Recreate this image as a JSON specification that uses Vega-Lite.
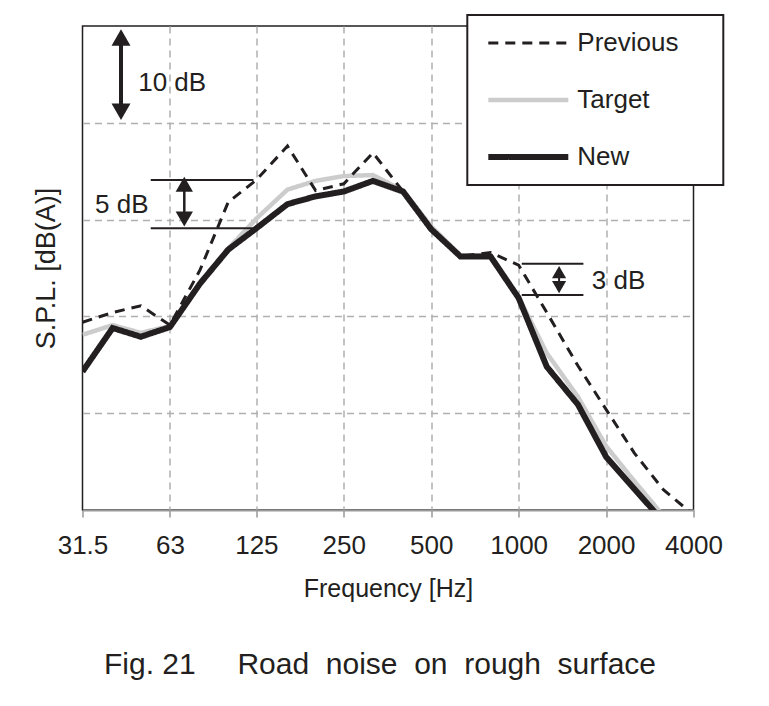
{
  "$schema": "https://vega.github.io/schema/vega-lite/v6.json",
  "width": 611,
  "height": 484,
  "autosize": {"type": "none"},
  "padding": {"left": 82.5, "top": 26, "right": 75.5, "bottom": 196},
  "background": "white",
  "config": {
    "font": "Liberation Sans",
    "view": {"stroke": "#231f20", "strokeWidth": 1.5}
  },
  "title": {
    "text": "Fig. 21\u00a0\u00a0\u00a0\u00a0\u00a0Road\u00a0\u00a0noise\u00a0\u00a0on\u00a0\u00a0rough\u00a0\u00a0surface",
    "orient": "bottom", "frame": "group", "anchor": "middle", "baseline": "alphabetic",
    "offset": 73, "dx": -8, "fontSize": 30, "fontWeight": "normal", "color": "#231f20", "font": "Liberation Sans"
  },
  "datasets": {
    "spectra": [
      {"series": "Target", "freq": 31.5, "spl": 18.1},
      {"series": "Target", "freq": 40, "spl": 19.1},
      {"series": "Target", "freq": 50, "spl": 18.3},
      {"series": "Target", "freq": 63, "spl": 19.0},
      {"series": "Target", "freq": 80, "spl": 23.4},
      {"series": "Target", "freq": 100, "spl": 27.0},
      {"series": "Target", "freq": 125, "spl": 30.1},
      {"series": "Target", "freq": 160, "spl": 33.1},
      {"series": "Target", "freq": 200, "spl": 34.0},
      {"series": "Target", "freq": 250, "spl": 34.5},
      {"series": "Target", "freq": 315, "spl": 34.6},
      {"series": "Target", "freq": 400, "spl": 33.0},
      {"series": "Target", "freq": 500, "spl": 29.3},
      {"series": "Target", "freq": 630, "spl": 26.3},
      {"series": "Target", "freq": 800, "spl": 26.3},
      {"series": "Target", "freq": 1000, "spl": 22.0},
      {"series": "Target", "freq": 1250, "spl": 16.2},
      {"series": "Target", "freq": 1600, "spl": 11.7},
      {"series": "Target", "freq": 2000, "spl": 6.6},
      {"series": "Target", "freq": 2500, "spl": 3.0},
      {"series": "Target", "freq": 3150, "spl": -0.6},
      {"series": "Previous", "freq": 31.5, "spl": 19.4},
      {"series": "Previous", "freq": 40, "spl": 20.4},
      {"series": "Previous", "freq": 50, "spl": 21.1},
      {"series": "Previous", "freq": 63, "spl": 19.1},
      {"series": "Previous", "freq": 80, "spl": 24.8},
      {"series": "Previous", "freq": 100, "spl": 31.8},
      {"series": "Previous", "freq": 125, "spl": 34.1},
      {"series": "Previous", "freq": 160, "spl": 37.6},
      {"series": "Previous", "freq": 200, "spl": 33.0},
      {"series": "Previous", "freq": 250, "spl": 33.7},
      {"series": "Previous", "freq": 315, "spl": 36.9},
      {"series": "Previous", "freq": 400, "spl": 32.9},
      {"series": "Previous", "freq": 500, "spl": 29.0},
      {"series": "Previous", "freq": 630, "spl": 26.2},
      {"series": "Previous", "freq": 800, "spl": 26.6},
      {"series": "Previous", "freq": 1000, "spl": 25.3},
      {"series": "Previous", "freq": 1250, "spl": 20.4},
      {"series": "Previous", "freq": 1600, "spl": 14.9},
      {"series": "Previous", "freq": 2000, "spl": 10.4},
      {"series": "Previous", "freq": 2500, "spl": 5.9},
      {"series": "Previous", "freq": 3150, "spl": 2.1},
      {"series": "Previous", "freq": 4000, "spl": -0.5},
      {"series": "New", "freq": 31.5, "spl": 14.3},
      {"series": "New", "freq": 40, "spl": 18.8},
      {"series": "New", "freq": 50, "spl": 17.9},
      {"series": "New", "freq": 63, "spl": 18.9},
      {"series": "New", "freq": 80, "spl": 23.4},
      {"series": "New", "freq": 100, "spl": 26.9},
      {"series": "New", "freq": 125, "spl": 29.1},
      {"series": "New", "freq": 160, "spl": 31.6},
      {"series": "New", "freq": 200, "spl": 32.4},
      {"series": "New", "freq": 250, "spl": 32.9},
      {"series": "New", "freq": 315, "spl": 34.0},
      {"series": "New", "freq": 400, "spl": 32.9},
      {"series": "New", "freq": 500, "spl": 29.0},
      {"series": "New", "freq": 630, "spl": 26.2},
      {"series": "New", "freq": 800, "spl": 26.2},
      {"series": "New", "freq": 1000, "spl": 21.9},
      {"series": "New", "freq": 1250, "spl": 14.8},
      {"series": "New", "freq": 1600, "spl": 10.9},
      {"series": "New", "freq": 2000, "spl": 5.5},
      {"series": "New", "freq": 2500, "spl": 2.2},
      {"series": "New", "freq": 3150, "spl": -1.2}
    ]
  },
  "layer": [
    {
      "data": {"name": "spectra"},
      "transform": [{"filter": "datum.series === 'Target'"}],
      "mark": {"type": "line", "clip": true},
      "encoding": {
        "x": {"field": "freq", "type": "quantitative",
          "scale": {"type": "log", "domain": [31.5, 4000], "nice": false, "zero": false},
          "axis": {"title": "Frequency [Hz]", "values": [31.5, 63, 125, 250, 500, 1000, 2000, 4000], "format": "~g",
            "labelFlush": false, "labelOverlap": false, "labelBound": false, "labelFontSize": 26, "labelColor": "#231f20", "labelFont": "Liberation Sans",
            "labelPadding": 15, "tickSize": 7, "tickColor": "#999999", "tickWidth": 1.5,
            "domainColor": "#999999", "domainWidth": 2,
            "grid": true, "gridColor": "#b0b0b0", "gridDash": [7, 5], "gridWidth": 1.5,
            "gridOpacity": {"condition": {"test": "datum.value <= 31.6 || datum.value >= 3990", "value": 0}, "value": 1},
            "titleFontSize": 25, "titleFontWeight": "normal", "titlePadding": 18, "titleColor": "#231f20", "titleFont": "Liberation Sans"}},
        "y": {"field": "spl", "type": "quantitative",
          "scale": {"domain": [0, 50], "nice": false, "zero": false},
          "axis": {"title": "S.P.L. [dB(A)]", "labels": false, "ticks": false, "domain": false, "grid": true,
            "values": [10, 20, 30, 40], "gridColor": "#b0b0b0", "gridDash": [7, 5], "gridWidth": 1.5,
            "titleFontSize": 27, "titleFontWeight": "normal", "titlePadding": 22, "titleColor": "#231f20", "titleFont": "Liberation Sans"}},
        "color": {"field": "series", "type": "nominal",
          "scale": {"domain": ["Previous", "Target", "New"], "range": ["#231f20", "#cccccc", "#231f20"]},
          "legend": {"title": null, "orient": "none", "legendX": 384.8, "legendY": -11, "padding": 15, "rowPadding": 31,
            "symbolType": "M-1.4,0H14.6", "symbolSize": 100, "labelFontSize": 26, "labelFont": "Liberation Sans", "labelColor": "#231f20",
            "labelOffset": 69, "strokeColor": "#231f20", "fillColor": "white",
            "labelExpr": "datum.label + '\u00a0\u00a0\u00a0\u00a0\u200b'",
            "encode": {"legend": {"update": {"strokeWidth": {"value": 2}}}}}},
        "strokeDash": {"field": "series", "type": "nominal",
          "scale": {"domain": ["Previous", "Target", "New"], "range": [[10, 7], [1, 0], [1, 0]]},
          "legend": {"title": null, "orient": "none", "legendX": 384.8, "legendY": -11, "padding": 15, "rowPadding": 31,
            "symbolType": "M-1.4,0H14.6", "symbolSize": 100, "labelFontSize": 26, "labelFont": "Liberation Sans", "labelColor": "#231f20",
            "labelOffset": 69, "strokeColor": "#231f20", "fillColor": "white",
            "labelExpr": "datum.label + '\u00a0\u00a0\u00a0\u00a0\u200b'",
            "encode": {"legend": {"update": {"strokeWidth": {"value": 2}}}}}},
        "strokeWidth": {"field": "series", "type": "nominal",
          "scale": {"domain": ["Previous", "Target", "New"], "range": [3, 6, 5]},
          "legend": {"title": null, "orient": "none", "legendX": 384.8, "legendY": -11, "padding": 15, "rowPadding": 31,
            "symbolType": "M-1.4,0H14.6", "symbolSize": 100, "labelFontSize": 26, "labelFont": "Liberation Sans", "labelColor": "#231f20",
            "labelOffset": 69, "strokeColor": "#231f20", "fillColor": "white",
            "labelExpr": "datum.label + '\u00a0\u00a0\u00a0\u00a0\u200b'",
            "encode": {"legend": {"update": {"strokeWidth": {"value": 2}}}}}}
      }
    },
    {
      "data": {"name": "spectra"},
      "transform": [{"filter": "datum.series === 'Previous'"}],
      "mark": {"type": "line", "clip": true},
      "encoding": {
        "x": {"field": "freq", "type": "quantitative"},
        "y": {"field": "spl", "type": "quantitative"},
        "color": {"field": "series", "type": "nominal"},
        "strokeDash": {"field": "series", "type": "nominal"},
        "strokeWidth": {"field": "series", "type": "nominal"}
      }
    },
    {
      "data": {"name": "spectra"},
      "transform": [{"filter": "datum.series === 'New'"}],
      "mark": {"type": "line", "clip": true},
      "encoding": {
        "x": {"field": "freq", "type": "quantitative"},
        "y": {"field": "spl", "type": "quantitative"},
        "color": {"field": "series", "type": "nominal"},
        "strokeDash": {"field": "series", "type": "nominal"},
        "strokeWidth": {"field": "series", "type": "nominal"}
      }
    },
    {
      "data": {"values": [{}]},
      "mark": {"type": "rule", "strokeWidth": 4, "color": "#231f20"},
      "encoding": {"x": {"datum": 42.75, "type": "quantitative"}, "y": {"datum": 48.3, "type": "quantitative"}, "y2": {"datum": 41.6}}
    },
    {
      "data": {"values": [{}]},
      "mark": {"type": "point", "shape": "triangle-up", "size": 360, "filled": true, "color": "#231f20", "opacity": 1, "strokeWidth": 0},
      "encoding": {"x": {"datum": 42.75, "type": "quantitative"}, "y": {"datum": 48.81, "type": "quantitative"}}
    },
    {
      "data": {"values": [{}]},
      "mark": {"type": "point", "shape": "triangle-down", "size": 360, "filled": true, "color": "#231f20", "opacity": 1, "strokeWidth": 0},
      "encoding": {"x": {"datum": 42.75, "type": "quantitative"}, "y": {"datum": 41.14, "type": "quantitative"}}
    },
    {
      "data": {"values": [{}]},
      "mark": {"type": "text", "align": "left", "baseline": "alphabetic", "fontSize": 26, "font": "Liberation Sans", "color": "#231f20"},
      "encoding": {"x": {"datum": 49.0, "type": "quantitative"}, "y": {"datum": 43.32, "type": "quantitative"}, "text": {"value": "10 dB"}}
    },
    {
      "data": {"values": [{}]},
      "mark": {"type": "rule", "strokeWidth": 2, "color": "#231f20"},
      "encoding": {"x": {"datum": 54.1, "type": "quantitative"}, "x2": {"datum": 122.1}, "y": {"datum": 34.1, "type": "quantitative"}}
    },
    {
      "data": {"values": [{}]},
      "mark": {"type": "rule", "strokeWidth": 2, "color": "#231f20"},
      "encoding": {"x": {"datum": 54.1, "type": "quantitative"}, "x2": {"datum": 122.1}, "y": {"datum": 29.1, "type": "quantitative"}}
    },
    {
      "data": {"values": [{}]},
      "mark": {"type": "rule", "strokeWidth": 2.5, "color": "#231f20"},
      "encoding": {"x": {"datum": 70.6, "type": "quantitative"}, "y": {"datum": 33.0, "type": "quantitative"}, "y2": {"datum": 30.6}}
    },
    {
      "data": {"values": [{}]},
      "mark": {"type": "point", "shape": "triangle-up", "size": 300, "filled": true, "color": "#231f20", "opacity": 1, "strokeWidth": 0},
      "encoding": {"x": {"datum": 70.6, "type": "quantitative"}, "y": {"datum": 33.66, "type": "quantitative"}}
    },
    {
      "data": {"values": [{}]},
      "mark": {"type": "point", "shape": "triangle-down", "size": 300, "filled": true, "color": "#231f20", "opacity": 1, "strokeWidth": 0},
      "encoding": {"x": {"datum": 70.6, "type": "quantitative"}, "y": {"datum": 30.06, "type": "quantitative"}}
    },
    {
      "data": {"values": [{}]},
      "mark": {"type": "text", "align": "left", "baseline": "alphabetic", "fontSize": 26, "font": "Liberation Sans", "color": "#231f20"},
      "encoding": {"x": {"datum": 34.78, "type": "quantitative"}, "y": {"datum": 30.65, "type": "quantitative"}, "text": {"value": "5 dB"}}
    },
    {
      "data": {"values": [{}]},
      "mark": {"type": "rule", "strokeWidth": 2, "color": "#231f20"},
      "encoding": {"x": {"datum": 1025, "type": "quantitative"}, "x2": {"datum": 1671}, "y": {"datum": 25.45, "type": "quantitative"}}
    },
    {
      "data": {"values": [{}]},
      "mark": {"type": "rule", "strokeWidth": 2, "color": "#231f20"},
      "encoding": {"x": {"datum": 1025, "type": "quantitative"}, "x2": {"datum": 1671}, "y": {"datum": 22.2, "type": "quantitative"}}
    },
    {
      "data": {"values": [{}]},
      "mark": {"type": "rule", "strokeWidth": 2, "color": "#231f20"},
      "encoding": {"x": {"datum": 1378, "type": "quantitative"}, "y": {"datum": 24.4, "type": "quantitative"}, "y2": {"datum": 23.2}}
    },
    {
      "data": {"values": [{}]},
      "mark": {"type": "point", "shape": "triangle-up", "size": 200, "filled": true, "color": "#231f20", "opacity": 1, "strokeWidth": 0},
      "encoding": {"x": {"datum": 1378, "type": "quantitative"}, "y": {"datum": 24.58, "type": "quantitative"}}
    },
    {
      "data": {"values": [{}]},
      "mark": {"type": "point", "shape": "triangle-down", "size": 200, "filled": true, "color": "#231f20", "opacity": 1, "strokeWidth": 0},
      "encoding": {"x": {"datum": 1378, "type": "quantitative"}, "y": {"datum": 23.02, "type": "quantitative"}}
    },
    {
      "data": {"values": [{}]},
      "mark": {"type": "text", "align": "left", "baseline": "alphabetic", "fontSize": 26, "font": "Liberation Sans", "color": "#231f20"},
      "encoding": {"x": {"datum": 1786, "type": "quantitative"}, "y": {"datum": 22.83, "type": "quantitative"}, "text": {"value": "3 dB"}}
    }
  ]
}
